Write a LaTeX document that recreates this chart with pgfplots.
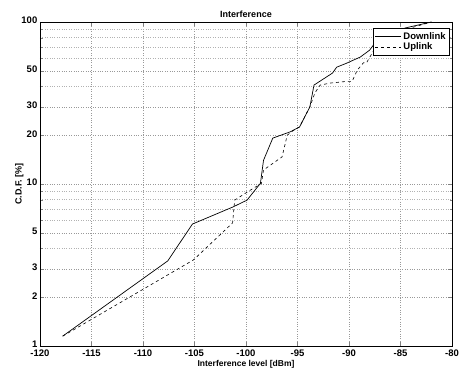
\documentclass[border=0pt]{standalone}
\usepackage{fontspec}
\setmainfont{Liberation Sans}
\usepackage{pgfplots}
\pgfplotsset{compat=1.18}
\begin{document}
\begin{tikzpicture}
\path[use as bounding box] (-40pt,-25pt) rectangle (422pt,346pt);
\begin{axis}[
  at={(0,0)}, anchor=south west,
  scale only axis, width=412pt, height=324pt,
  ymode=log, xmin=-120, xmax=-80, ymin=1, ymax=100,
  xtick={-120,-115,...,-80},
  ytick={1,2,3,5,10,20,30,50,100},
  yticklabels={1,2,3,5,10,20,30,50,100},
  minor ytick={4,6,7,8,9,40,60,70,80,90},
  tick align=inside, major tick length=4pt, minor tick length=2.5pt,
  grid=both,
  major grid style={dotted, gray!80},
  minor grid style={dotted, gray!60},
  axis line style={line width=0.8pt},
  font=\bfseries\fontsize{9}{10}\selectfont,
  ticklabel style={font=\bfseries\fontsize{9.5}{10}\selectfont},
  xticklabel style={inner sep=1pt, yshift=-3pt},
  yticklabel style={inner sep=0.5pt, xshift=-2pt, yshift=1.5pt},
  /pgf/number format/assume math mode=true,
  title={Interference}, title style={yshift=-5pt},
  xlabel={Interference level [dBm]},
  xlabel style={at={(axis description cs:0.5,0)}, anchor=north, inner sep=0pt, yshift=-14pt, font=\bfseries\fontsize{8.5}{9}\selectfont},
  ylabel={C.D.F. [\%]}, ylabel style={yshift=-6pt},
  legend style={at={(0.995,0.982)}, anchor=north east, draw=black, line width=0.6pt,
    font=\bfseries\fontsize{9.5}{10}\selectfont, inner sep=2pt, row sep=-1.5pt},
  legend image post style={xscale=1.5},
  legend cell align=left,
]
\addplot[black, line width=0.7pt] coordinates {
(-117.8,1.15) (-107.6,3.35) (-105.2,5.66) (-101.3,7.2) (-99.9,7.95)
(-98.6,10.1) (-98.3,14) (-97.4,19.2) (-95.7,21) (-94.8,22.5)
(-93.8,29.9) (-93.4,40.8) (-91.6,48.4) (-91.2,52.6) (-90.2,55.8)
(-88.9,60.8) (-88,67) (-87.3,77) (-86.3,83) (-84.5,92) (-82,100)
};
\addlegendentry{Downlink}
\addplot[black, line width=0.6pt, dashed] coordinates {
(-117.8,1.15) (-105.1,3.4) (-101.3,5.75) (-101.1,7.95) (-99.9,8.9)
(-98.5,10.1) (-98.3,12.2) (-96.5,14.7) (-96,20) (-95.5,21.2)
(-94.8,22.5) (-93.8,30) (-93.3,36.6) (-92.8,40.8) (-91.8,42)
(-90.2,43) (-89.7,43) (-89.2,50.4) (-88.6,56) (-88.3,56)
(-87.3,72) (-86.7,77) (-84.5,90) (-82,100)
};
\addlegendentry{Uplink}
\end{axis}
\end{tikzpicture}
\end{document}
